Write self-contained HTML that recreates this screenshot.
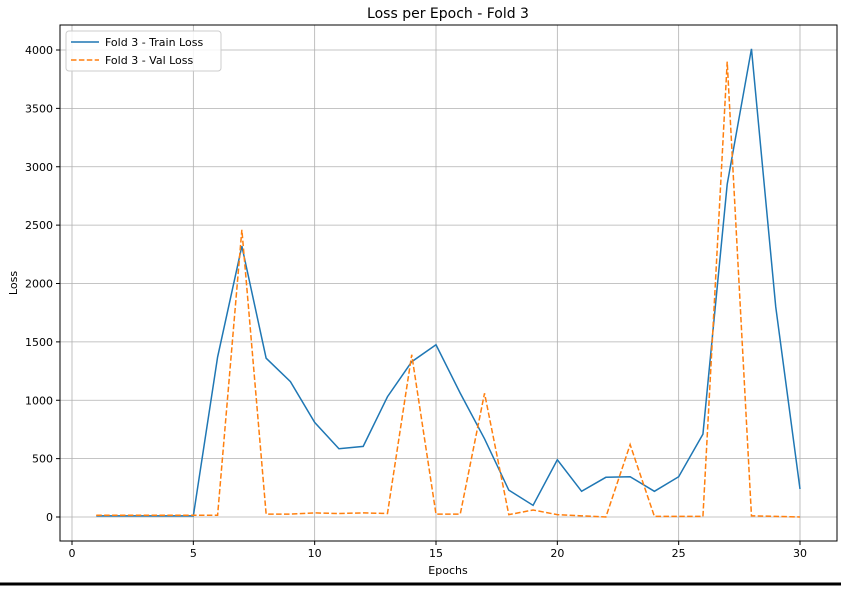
<!DOCTYPE html>
<html><head><meta charset="utf-8"><style>
body{margin:0;background:#fff;font-family:"Liberation Sans","DejaVu Sans",sans-serif}
</style></head><body>
<svg id="chart" width="841" height="586" xmlns="http://www.w3.org/2000/svg" font-family="DejaVu Sans, Liberation Sans, sans-serif">
<rect width="841" height="586" fill="#fff"/>
<line x1="0" y1="584" x2="841" y2="584" stroke="#000" stroke-width="3"/>
<text x="448" y="18" text-anchor="middle" font-size="14">Loss per Epoch - Fold 3</text>
<g id="grid"></g><g id="ticks"></g>
<rect x="60" y="25" width="777" height="516" fill="none" stroke="#000" stroke-width="1"/>
<g id="series"></g>
<text x="448" y="574" text-anchor="middle" font-size="11">Epochs</text>
<text x="17" y="283" text-anchor="middle" font-size="11" transform="rotate(-90 17 283)">Loss</text>
<g>
<rect x="66" y="31" width="155" height="40" rx="3" fill="#fff" fill-opacity="0.85" stroke="#ccc"/>
<line x1="71" y1="42" x2="99" y2="42" stroke="#1f77b4" stroke-width="1.5"/>
<text x="105" y="46" font-size="11">Fold 3 - Train Loss</text>
<line x1="71" y1="60" x2="99" y2="60" stroke="#ff7f0e" stroke-width="1.5" stroke-dasharray="5.5,2.4"/>
<text x="105" y="64" font-size="11">Fold 3 - Val Loss</text>
</g>
</svg>
<script>
const epochs=[1,2,3,4,5,6,7,8,9,10,11,12,13,14,15,16,17,18,19,20,21,22,23,24,25,26,27,28,29,30];
const trainLoss=[10,10,10,10,10,1370,2320,1360,1160,810,585,605,1030,1330,1475,1060,670,230,100,490,220,340,345,220,345,710,2850,4010,1800,240];
const valLoss=[15,15,15,15,15,15,2460,25,25,35,30,35,30,1390,25,25,1060,20,60,20,10,0,620,5,5,5,3900,10,5,0];
const xTicks=[0,5,10,15,20,25,30];
const yTicks=[0,500,1000,1500,2000,2500,3000,3500,4000];
const NS='http://www.w3.org/2000/svg';
const X=v=>72+v*(800-72)/30;
const Y=v=>517-v*(467/4000);
const grid=document.getElementById('grid'),ticks=document.getElementById('ticks'),series=document.getElementById('series');
function mk(tag,attrs,parent,text){const e=document.createElementNS(NS,tag);for(const k in attrs)e.setAttribute(k,attrs[k]);if(text!==undefined)e.textContent=text;parent.appendChild(e);return e;}
xTicks.forEach(t=>{
 const g=mk('line',{x1:X(t),x2:X(t),y1:25,y2:541,stroke:'#b0b0b0','stroke-width':0.8},grid);
 
 
 mk('line',{x1:X(t),x2:X(t),y1:541,y2:545,stroke:'#000'},ticks);
 const l=mk('text',{x:X(t),y:557,'text-anchor':'middle','font-size':11},ticks,String(t));
 
 
});
yTicks.forEach(t=>{
 const g=mk('line',{x1:60,x2:837,y1:Y(t),y2:Y(t),stroke:'#b0b0b0','stroke-width':0.8},grid);
 
 
 mk('line',{x1:56,x2:60,y1:Y(t),y2:Y(t),stroke:'#000'},ticks);
 const l=mk('text',{x:53,y:Y(t)+4,'text-anchor':'end','font-size':11},ticks,String(t));
 
 
});
const pts=a=>a.map((v,i)=>X(epochs[i])+','+Y(v)).join(' ');
const tr=mk('polyline',{points:pts(trainLoss),fill:'none',stroke:'#1f77b4','stroke-width':1.5},series);


const va=mk('polyline',{points:pts(valLoss),fill:'none',stroke:'#ff7f0e','stroke-width':1.5,'stroke-dasharray':'5.5,2.4'},series);


</script>
</body></html>
